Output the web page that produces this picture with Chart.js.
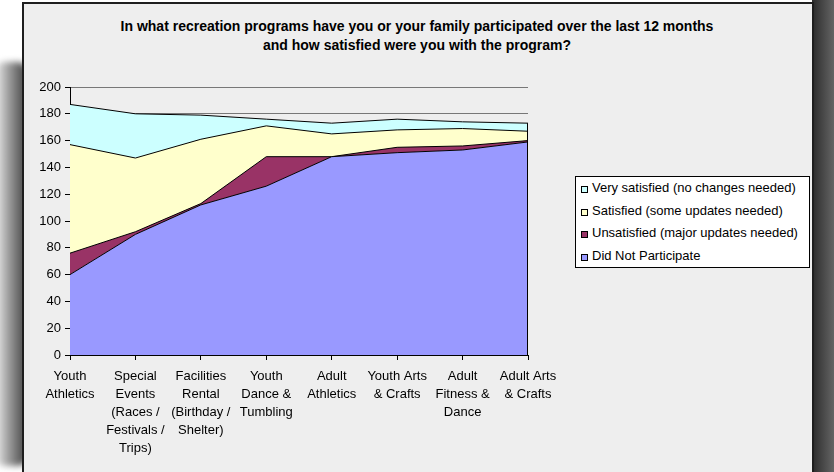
<!DOCTYPE html>
<html>
<head>
<meta charset="utf-8">
<script src="https://cdn.jsdelivr.net/npm/chart.js@4.4.1/dist/chart.umd.min.js"></script>
<style>
  html, body { margin: 0; padding: 0; background: #fff; }
  body { width: 834px; height: 472px; position: relative; overflow: hidden; font-family: "Liberation Sans", Arial, sans-serif; }
  #shadowLeft {
    position: absolute; left: -6px; top: 62px; width: 34px; height: 404px;
    background: linear-gradient(to right, #f4f4f4 0%, #9a9a9a 45%, #3a3a3a 100%);
    filter: blur(3px); border-radius: 10px;
  }
  #shadowRight {
    position: absolute; left: 812px; top: 0; width: 24px; height: 472px;
    background: linear-gradient(to right, #2a2a2a 0%, #444 40%, #6a6a6a 100%);
  }
  #panel {
    position: absolute; left: 22px; top: 2px; width: 788px; height: 480px;
    background: #eeeeee; border: 2px solid #1e1e1e;
  }
  #title {
    position: absolute; left: 24px; width: 786px; top: 17px;
    text-align: center; font-weight: bold; font-size: 14px; line-height: 18.5px; color: #000;
  }
  #legend {
    position: absolute; left: 575px; top: 176px; width: 233px;
    background: #fff; border: 1px solid #000; font-size: 13px; color: #000;
  }
  #legend .item { height: 22.5px; line-height: 22.5px; white-space: nowrap; }
  #legend .box {
    display: inline-block; width: 5px; height: 5px; border: 1px solid #000;
    margin: 0 4px 0 5px; vertical-align: -1px;
  }
  #chartWrap { position: absolute; left: 0; top: 0; width: 834px; height: 472px; }
</style>
</head>
<body>
<div id="shadowLeft"></div>
<div id="shadowRight"></div>
<div id="panel"></div>
<div id="title">In what recreation programs have you or your family participated over the last 12 months<br>and how satisfied were you with the program?</div>
<div id="chartWrap"><canvas id="areaChart" width="834" height="472"></canvas></div>
<div id="legend"></div>

<script>
// categories (line breaks as in the original axis)
const programs = [
  ["Youth", "Athletics"],
  ["Special", "Events", "(Races /", "Festivals /", "Trips)"],
  ["Facilities", "Rental", "(Birthday /", "Shelter)"],
  ["Youth", "Dance &", "Tumbling"],
  ["Adult", "Athletics"],
  ["Youth Arts", "& Crafts"],
  ["Adult", "Fitness &", "Dance"],
  ["Adult Arts", "& Crafts"]
];

// stacked series, bottom to top
const didNotParticipate = [60, 90, 112, 126, 148, 151, 153, 159];
const unsatisfied       = [16, 2, 1, 22, 0, 4, 3, 1];
const satisfied         = [81, 55, 48, 23, 17, 13, 13, 7];
const verySatisfied     = [30, 33, 18, 5, 8, 8, 5, 6];

const yTicks = [0, 20, 40, 60, 80, 100, 120, 140, 160, 180, 200];

const series = [
  { label: "Did Not Participate", data: didNotParticipate, color: "#9999ff" },
  { label: "Unsatisfied (major updates needed)", data: unsatisfied, color: "#993366" },
  { label: "Satisfied (some updates needed)", data: satisfied, color: "#ffffcc" },
  { label: "Very satisfied (no changes needed)", data: verySatisfied, color: "#ccffff" }
];

Chart.defaults.font.family = '"Liberation Sans", Arial, sans-serif';
Chart.defaults.font.size = 13;
Chart.defaults.color = "#000";

// Excel closes the area outline on the right edge
const rightEdge = {
  id: "rightEdge",
  afterDatasetsDraw(chart) {
    const x = chart.scales.x;
    const y = chart.scales.y;
    const last = programs.length - 1;
    let total = 0;
    series.forEach(s => total += s.data[last]);
    const px = Math.round(x.getPixelForValue(last)) - 0.5;
    const ctx = chart.ctx;
    ctx.save();
    ctx.strokeStyle = "#000";
    ctx.lineWidth = 1;
    ctx.beginPath();
    ctx.moveTo(px, y.getPixelForValue(total));
    ctx.lineTo(px, y.getPixelForValue(0));
    ctx.stroke();
    ctx.restore();
  }
};

const ctx = document.getElementById("areaChart").getContext("2d");
new Chart(ctx, {
  type: "line",
  data: {
    labels: programs,
    datasets: series.map((s, i) => ({
      label: s.label,
      data: s.data,
      backgroundColor: s.color,
      borderColor: "#000",
      borderWidth: 1,
      fill: i === 0 ? "origin" : "-1",
      tension: 0,
      pointRadius: 0,
      pointHoverRadius: 0
    }))
  },
  options: {
    responsive: false,
    animation: false,
    events: [],
    layout: { padding: { left: 25, right: 306, top: 87, bottom: 17 } },
    plugins: {
      legend: { display: false },
      title: { display: false },
      tooltip: { enabled: false }
    },
    scales: {
      x: {
        offset: false,
        afterFit: scale => { scale.height = 100; },
        grid: { drawOnChartArea: false, color: "#000", tickColor: "#000", tickLength: 5 },
        border: { color: "#000", width: 1 },
        ticks: { autoSkip: false, maxRotation: 0, padding: 7, font: { size: 13, lineHeight: 1.4 } }
      },
      y: {
        stacked: true,
        min: 0,
        max: 200,
        afterFit: scale => { scale.width = 45; },
        afterBuildTicks: scale => { scale.ticks = yTicks.map(v => ({ value: v })); },
        grid: { color: "#777", tickColor: "#000", tickLength: 5 },
        border: { color: "#000", width: 1 },
        ticks: { padding: 4, font: { size: 13 } }
      }
    }
  },
  plugins: [rightEdge]
});

// legend box, top series first like the original
const legend = document.getElementById("legend");
series.slice().reverse().forEach(s => {
  const item = document.createElement("div");
  item.className = "item";
  const box = document.createElement("span");
  box.className = "box";
  box.style.background = s.color;
  item.appendChild(box);
  item.appendChild(document.createTextNode(s.label));
  legend.appendChild(item);
});
</script>
</body>
</html>
